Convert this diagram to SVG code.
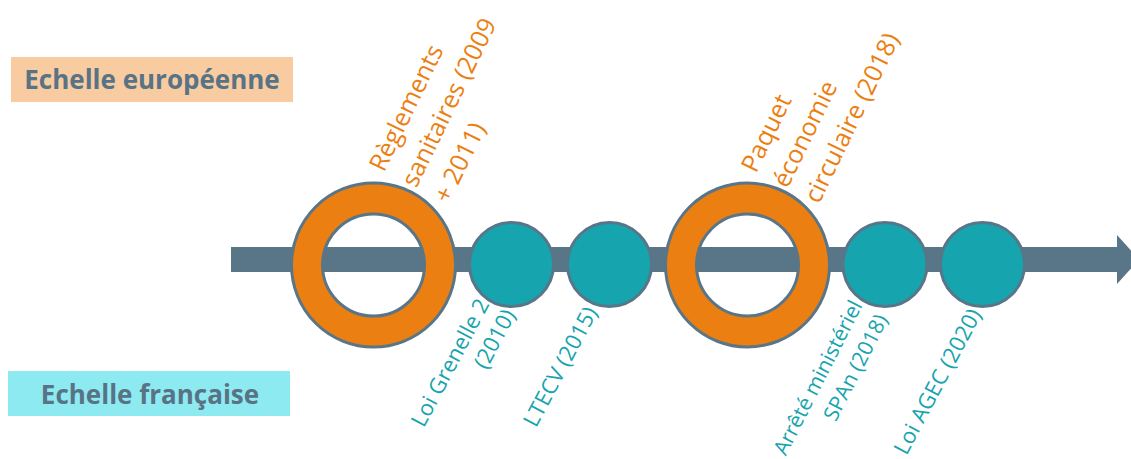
<svg xmlns="http://www.w3.org/2000/svg" width="1131" height="459" viewBox="0 0 1131 459">
<style>
.hdr{font-family:"Open Sans","Liberation Sans",sans-serif;font-weight:700;font-size:26px;fill:#587385;text-anchor:middle}
.lbl{font-family:"Open Sans","Liberation Sans",sans-serif;font-size:22px}
.big{font-size:25px}
.sm{font-size:21px}
.eu{fill:#ec7f12}
.fr{fill:#16a4ae}
.ring{fill:#ec7f12;fill-rule:evenodd;stroke:#587688;stroke-width:3}
.dot{fill:#16a4ae;stroke:#587688;stroke-width:3}
</style>
<rect width="1131" height="459" fill="#ffffff"/>
<g id="scale-eu">
<rect x="11" y="57" width="282" height="45" fill="#f8cba1"/>
<text class="hdr" x="152" y="89">Echelle européenne</text>
</g>
<g id="scale-fr">
<rect x="8" y="371" width="282" height="45" fill="#8deaf0"/>
<text class="hdr" x="150" y="404">Echelle française</text>
</g>
<g id="connectors">
<rect x="231" y="247" width="888" height="25" fill="#587688"/>
<polygon points="1117,235 1139,259.5 1117,284" fill="#587688"/>
</g>
<g id="n-reglements">
<path class="ring" d="M291.5,265a82,82 0 1,0 164,0a82,82 0 1,0 -164,0ZM322.5,265a51,51 0 1,0 102,0a51,51 0 1,0 -102,0Z"/>
<text class="lbl big eu" transform="translate(384,173) rotate(-64)"><tspan x="0" y="0">Règlements</tspan><tspan x="0" y="36">sanitaires (2009</tspan><tspan x="0" y="72">+ 2011)</tspan></text>
</g>
<g id="n-grenelle">
<circle class="dot" cx="511.5" cy="264.5" r="42"/>
<text class="lbl fr" text-anchor="end" transform="translate(490,304) rotate(-62)"><tspan x="0" y="0">Loi Grenelle 2</tspan><tspan x="3" y="28">(2010)</tspan></text>
</g>
<g id="n-ltecv">
<circle class="dot" cx="609.5" cy="264.5" r="42"/>
<text class="lbl fr" text-anchor="end" transform="translate(598,312) rotate(-62)"><tspan x="0" y="0">LTECV (2015)</tspan></text>
</g>
<g id="n-paquet">
<path class="ring" d="M665.5,265a82,82 0 1,0 164,0a82,82 0 1,0 -164,0ZM696.5,265a51,51 0 1,0 102,0a51,51 0 1,0 -102,0Z"/>
<text class="lbl big eu" transform="translate(756,174) rotate(-64)"><tspan x="0" y="0">Paquet</tspan><tspan x="0" y="35">économie</tspan><tspan x="0" y="70">circulaire (2018)</tspan></text>
</g>
<g id="n-span">
<circle class="dot" cx="885" cy="264.5" r="42"/>
<text class="lbl sm fr" text-anchor="end" transform="translate(863,305) rotate(-63)"><tspan x="0" y="0">Arrêté ministériel</tspan><tspan x="-1" y="29">SPAn (2018)</tspan></text>
</g>
<g id="n-agec">
<circle class="dot" cx="982.5" cy="264.5" r="42"/>
<text class="lbl fr" text-anchor="end" transform="translate(982,314) rotate(-62)"><tspan x="0" y="0">Loi AGEC (2020)</tspan></text>
</g>
</svg>
